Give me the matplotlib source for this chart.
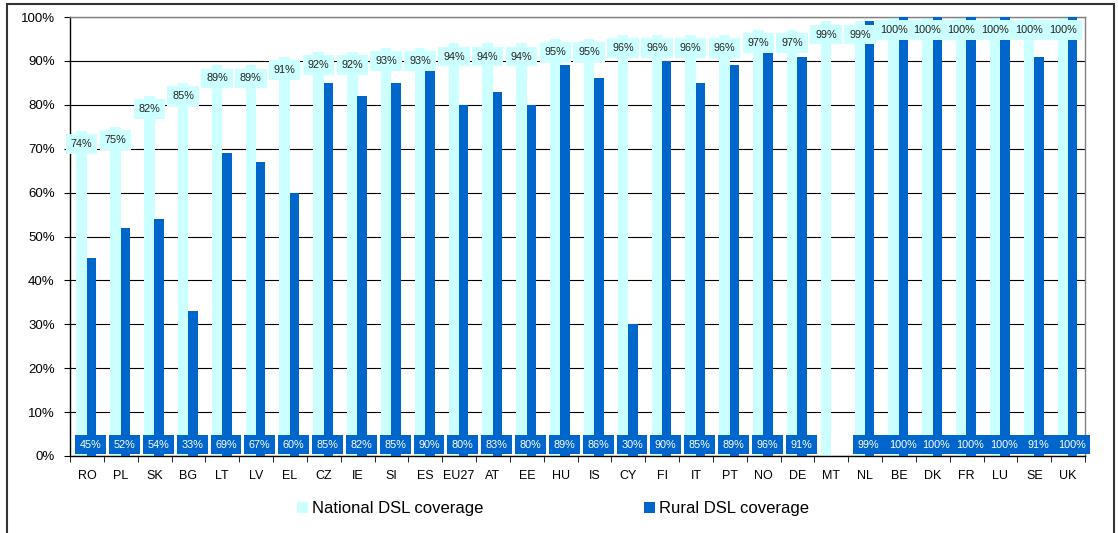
import matplotlib
matplotlib.use("Agg")
import matplotlib.pyplot as plt
from matplotlib.patches import Patch, Rectangle
import numpy as np

plt.rcParams['font.family'] = ['Liberation Sans', 'DejaVu Sans']

countries = ["RO", "PL", "SK", "BG", "LT", "LV", "EL", "CZ", "IE", "SI", "ES", "EU27",
             "AT", "EE", "HU", "IS", "CY", "FI", "IT", "PT", "NO", "DE", "MT", "NL",
             "BE", "DK", "FR", "LU", "SE", "UK"]
national = [74, 75, 82, 85, 89, 89, 91, 92, 92, 93, 93, 94, 94, 94, 95, 95, 96, 96, 96,
            96, 97, 97, 99, 99, 100, 100, 100, 100, 100, 100]
rural = [45, 52, 54, 33, 69, 67, 60, 85, 82, 85, 90, 80, 83, 80, 89, 86, 30, 90, 85,
         89, 96, 91, None, 99, 100, 100, 100, 100, 91, 100]
yticks = [0, 10, 20, 30, 40, 50, 60, 70, 80, 90, 100]

light = "#CCFFFF"
dark = "#0066CC"

fig = plt.figure(figsize=(11.18, 5.33), dpi=100)
W, H = 1118, 533
ax = fig.add_axes([70 / W, 1 - 456 / H, (1085 - 70) / W, (456 - 17) / H])

x = np.arange(len(countries))
nat = np.array(national, dtype=float)
rur = np.array([np.nan if v is None else v for v in rural], dtype=float)

ax.bar(x - 0.155, nat, width=0.31, color=light, zorder=2)
ax.bar(x + 0.135, rur, width=0.28, color=dark, zorder=3)

for xi, v in zip(x, nat):
    ax.text(xi - 0.155, v - 3.0, f"{int(v)}%", ha="center", va="center",
            fontsize=7.8, color="#222222", zorder=5,
            bbox=dict(boxstyle="square,pad=0.45", fc=light, ec="none"))
for xi, v in zip(x, rur):
    if np.isnan(v):
        continue
    ax.text(xi + 0.11, 2.6, f"{int(v)}%", ha="center", va="center",
            fontsize=7.8, color="white", zorder=6,
            bbox=dict(boxstyle="square,pad=0.42", fc=dark, ec="none"))

ax.set_xlim(-0.5, len(countries) - 0.5)
ax.set_ylim(0, 100)
ax.set_yticks(yticks)
ax.set_yticklabels([f"{t}%" for t in yticks], fontsize=9.5)
ax.yaxis.grid(True, color="black", linewidth=0.8, zorder=0)
ax.set_axisbelow(True)

ax.set_xticks(x)
ax.set_xticklabels(countries, fontsize=9)
ax.tick_params(axis="x", which="major", length=0, pad=10)
ax.set_xticks(np.arange(-0.5, len(countries), 1), minor=True)
ax.tick_params(axis="x", which="minor", length=4, direction="out", color="black")
ax.tick_params(axis="y", length=4, direction="out", pad=7)

for s in ["left", "bottom"]:
    ax.spines[s].set_color("black")
    ax.spines[s].set_linewidth(1.0)
for s in ["top", "right"]:
    ax.spines[s].set_color("#808080")
    ax.spines[s].set_linewidth(1.0)

handles = [Patch(facecolor=light, edgecolor="none", label="National DSL coverage"),
           Patch(facecolor=dark, edgecolor="none", label="Rural DSL coverage")]
fig.legend(handles=handles, loc="center", bbox_to_anchor=(553 / W, 1 - 509 / H),
           ncol=2, frameon=False, fontsize=12, handlelength=0.65, handleheight=0.65,
           handletextpad=0.25, columnspacing=9.6)

fig.patches.append(Rectangle((7 / W, -0.01), (1114 - 7) / W, 1 - 4 / H + 0.01,
                             transform=fig.transFigure, fill=False,
                             edgecolor="#333333", linewidth=1.5))

fig.savefig("out.png", dpi=100)
